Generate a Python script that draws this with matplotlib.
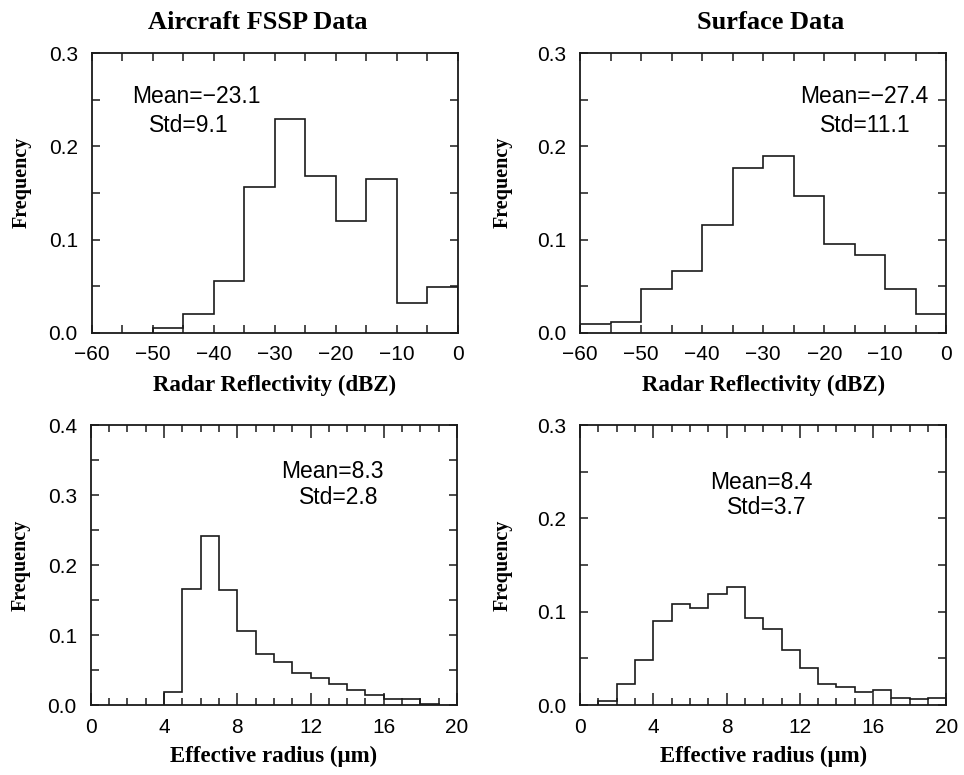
import matplotlib
matplotlib.use("Agg")
import matplotlib.pyplot as plt
from matplotlib.ticker import MultipleLocator, FormatStrFormatter

# Radar reflectivity histograms (bin edges in dBZ)
dbz_edges_air = [-50, -45, -40, -35, -30, -25, -20, -15, -10, -5, 0]
dbz_freq_air = [0.005, 0.020, 0.056, 0.156, 0.229, 0.168, 0.120, 0.165, 0.032, 0.049]

dbz_edges_sfc = [-60, -55, -50, -45, -40, -35, -30, -25, -20, -15, -10, -5, 0]
dbz_freq_sfc = [0.009, 0.012, 0.047, 0.066, 0.116, 0.177, 0.190, 0.147, 0.095, 0.083, 0.047, 0.020]

# Effective radius histograms (bin edges in micron)
re_edges_air = [4, 5, 6, 7, 8, 9, 10, 11, 12, 13, 14, 15, 16, 17, 18, 19]
re_freq_air = [0.018, 0.166, 0.241, 0.165, 0.106, 0.073, 0.062, 0.046, 0.038, 0.030,
               0.022, 0.014, 0.009, 0.009, 0.0015]

re_edges_sfc = [1, 2, 3, 4, 5, 6, 7, 8, 9, 10, 11, 12, 13, 14, 15, 16, 17, 18, 19, 20]
re_freq_sfc = [0.004, 0.022, 0.048, 0.090, 0.108, 0.104, 0.119, 0.126, 0.093, 0.081,
               0.059, 0.040, 0.022, 0.019, 0.014, 0.016, 0.008, 0.006, 0.007]

titles = ["Aircraft FSSP Data", "Surface Data"]
stats = [("Mean=\u221223.1", "Std=9.1"), ("Mean=\u221227.4", "Std=11.1"),
         ("Mean=8.3", "Std=2.8"), ("Mean=8.4", "Std=3.7")]

serif = "Liberation Serif"
sans = "Liberation Sans"
ink = "#1a1a1a"

fig = plt.figure(figsize=(9.64, 7.75), dpi=100)
w = 0.380
h_top, h_bot = 0.3605, 0.3613
ax_tl = fig.add_axes([0.0951, 0.5707, w, h_top])
ax_tr = fig.add_axes([0.6017, 0.5707, w, h_top])
ax_bl = fig.add_axes([0.0941, 0.0903, w, h_bot])
ax_br = fig.add_axes([0.6017, 0.0903, w, h_bot])

ax_tl.stairs(dbz_freq_air, dbz_edges_air, color=ink, lw=1.2)
ax_tr.stairs(dbz_freq_sfc, dbz_edges_sfc, color=ink, lw=1.2)
ax_bl.stairs(re_freq_air, re_edges_air, color=ink, lw=1.2)
ax_br.stairs(re_freq_sfc, re_edges_sfc, color=ink, lw=1.2)

for ax in (ax_tl, ax_tr):
    ax.set_xlim(-60, 0)
    ax.set_ylim(0, 0.3)
    ax.xaxis.set_major_locator(MultipleLocator(10))
    ax.xaxis.set_minor_locator(MultipleLocator(5))
    ax.set_xlabel("Radar Reflectivity (dBZ)", family=serif, weight="bold", fontsize=16.5)
    ax.xaxis.set_label_coords(0.5, -0.15)
    ax.tick_params(which="both", length=6)

ax_bl.set_ylim(0, 0.4)
ax_br.set_ylim(0, 0.3)
for ax in (ax_bl, ax_br):
    ax.set_xlim(0, 20)
    ax.xaxis.set_major_locator(MultipleLocator(4))
    ax.xaxis.set_minor_locator(MultipleLocator(1))
    ax.set_xlabel("Effective radius (\u03bcm)", family=serif, weight="bold", fontsize=16.5)
    ax.xaxis.set_label_coords(0.5, -0.147)
    ax.tick_params(which="major", length=9)
    ax.tick_params(which="minor", length=5)
    ax.tick_params(axis="y", which="both", length=6)

for ax in (ax_tl, ax_tr, ax_bl, ax_br):
    ax.yaxis.set_major_locator(MultipleLocator(0.1))
    ax.yaxis.set_minor_locator(MultipleLocator(0.05))
    ax.yaxis.set_major_formatter(FormatStrFormatter("%.1f"))
    ax.tick_params(which="both", direction="in", top=True, right=True,
                   width=1.1, color=ink)
    ax.tick_params(axis="x", pad=9, labelsize=15)
    ax.tick_params(axis="y", pad=10, labelsize=15)
    for lab in ax.get_xticklabels() + ax.get_yticklabels():
        lab.set_family(sans)
    for sp in ax.spines.values():
        sp.set_linewidth(1.3)
        sp.set_color(ink)
    ax.set_ylabel("Frequency", family=serif, weight="bold", fontsize=14.5)

ax_tl.yaxis.set_label_coords(-0.163, 0.54)
ax_bl.yaxis.set_label_coords(-0.163, 0.50)
ax_tr.yaxis.set_label_coords(-0.185, 0.54)
ax_br.yaxis.set_label_coords(-0.185, 0.50)

# titles above the columns
fig.text(0.2676, 0.971, titles[0], family=serif, weight="bold", fontsize=19,
         ha="center", va="center")
fig.text(0.7998, 0.971, titles[1], family=serif, weight="bold", fontsize=19,
         ha="center", va="center")

# mean / std annotations
ann = [(ax_tl, -53.4, 0.254, -50.6, 0.222),
       (ax_tr, -24.0, 0.254, -20.7, 0.222),
       (ax_bl, 10.37, 0.333, 11.36, 0.297),
       (ax_br, 7.09, 0.238, 8.0, 0.212)]
for (ax, x1, y1, x2, y2), (m, s) in zip(ann, stats):
    ax.text(x1, y1, m, family=sans, fontsize=16.5, ha="left", va="center", color="black")
    ax.text(x2, y2, s, family=sans, fontsize=16.5, ha="left", va="center", color="black")

fig.savefig("out.png", dpi=100)
